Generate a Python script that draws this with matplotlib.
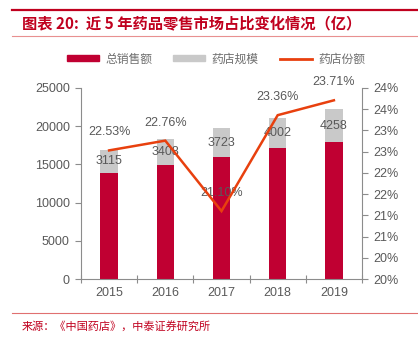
import matplotlib
matplotlib.use("Agg")
import matplotlib.pyplot as plt
from matplotlib.lines import Line2D
from matplotlib.patches import Patch
import numpy as np

plt.rcParams['font.family'] = ['Liberation Sans', 'Noto Sans CJK SC', 'DejaVu Sans']
CJK = ['Noto Sans CJK SC', 'DejaVu Sans']

years = ['2015', '2016', '2017', '2018', '2019']
total_sales = [13826, 14974, 16000, 17132, 17959]
pharmacy_size = [3115, 3408, 3723, 4002, 4258]
pharmacy_share = [22.53, 22.76, 21.10, 23.36, 23.71]

RED = '#C00032'
GRAY = '#C9C9C9'
LINE = '#E8400E'
AXC = '#8C8C8C'
TXT = '#595959'
TITLE_RED = '#C0001E'

fig = plt.figure(figsize=(4.18, 3.41), dpi=100)
ax = fig.add_axes([81 / 418, 1 - 279 / 341, 281 / 418, 191 / 341])

x = np.arange(len(years))
bw = 0.31
ax.bar(x, total_sales, bw, color=RED, zorder=2)
ax.bar(x, pharmacy_size, bw, bottom=total_sales, color=GRAY, zorder=2)
for xi, b, v in zip(x, total_sales, pharmacy_size):
    ax.text(xi, b + v / 2 - 1, f'{v}', ha='center', va='center',
            fontsize=9, color=TXT, zorder=5)

ax.set_xlim(-0.5, len(years) - 0.5)
ax.set_ylim(0, 25000)
ax.set_yticks(np.arange(0, 25001, 5000))
ax.set_xticks(x)
ax.set_xticklabels(years)
ax.set_xticks(np.arange(-0.5, len(years), 1.0), minor=True)
ax.tick_params(axis='x', which='major', length=0, pad=6, labelsize=9, labelcolor=TXT)
ax.tick_params(axis='x', which='minor', length=6, direction='inout', color=AXC, width=0.8)
ax.tick_params(axis='y', length=4, direction='out', color=AXC, width=0.8,
               labelsize=9, labelcolor=TXT, pad=4)
for s in ['top', 'right']:
    ax.spines[s].set_visible(False)
for s in ['left', 'bottom']:
    ax.spines[s].set_color(AXC)
    ax.spines[s].set_linewidth(0.8)

ax2 = ax.twinx()
ax2.plot(x, pharmacy_share, color=LINE, lw=1.8, zorder=4, solid_joinstyle='miter')
for xi, v in zip(x, pharmacy_share):
    ax2.annotate(f'{v:.2f}%', (xi, v), xytext=(0, 13), textcoords='offset points',
                 ha='center', va='center', fontsize=9, color=TXT)
ax2.set_ylim(19.5, 24.0)
rticks = np.arange(19.5, 24.01, 0.5)
ax2.set_yticks(rticks)
ax2.set_yticklabels([f'{int(np.floor(t + 0.5))}%' for t in rticks])
ax2.tick_params(axis='y', length=4, direction='out', color=AXC, width=0.8,
                labelsize=9, labelcolor=TXT, pad=4)
for s in ['top', 'left', 'bottom']:
    ax2.spines[s].set_visible(False)
ax2.spines['right'].set_color(AXC)
ax2.spines['right'].set_linewidth(0.8)

handles = [Patch(color=RED), Patch(color=GRAY), Line2D([0], [0], color=LINE, lw=2)]
labels = ['总销售额', '药店规模', '药店份额']
leg = fig.legend(handles, labels, ncol=3, loc='center', bbox_to_anchor=(216 / 418, 1 - 59 / 341),
                 frameon=False, prop={'family': CJK, 'size': 8.5},
                 handlelength=2.7, handleheight=0.45, handletextpad=0.55, columnspacing=1.8)
for t in leg.get_texts():
    t.set_color('#6E6E6E')

# header and footer rules
fig.add_artist(Line2D([12 / 418, 1], [1 - 9.5 / 341] * 2, color=TITLE_RED, lw=1.6))
fig.add_artist(Line2D([12 / 418, 1], [1 - 36 / 341] * 2, color='#E89090', lw=0.8))
fig.add_artist(Line2D([12 / 418, 1], [1 - 313 / 341] * 2, color='#E07070', lw=0.8))

fig.text(22 / 418, 1 - 23 / 341, '图表 20:  近 5 年药品零售市场占比变化情况（亿）',
         family=CJK, fontsize=11, fontweight='bold', style='italic', color=TITLE_RED,
         ha='left', va='center')
fig.text(22 / 418, 1 - 326 / 341, '来源：《中国药店》，中泰证券研究所',
         family=CJK, fontsize=8, color=TITLE_RED, ha='left', va='center')

fig.savefig('out.png', dpi=100)
